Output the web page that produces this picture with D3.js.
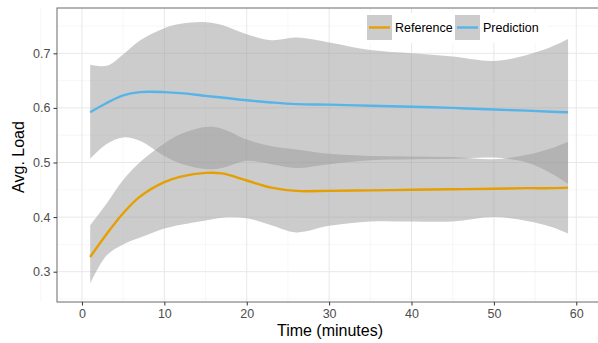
<!DOCTYPE html>
<html>
<head>
<meta charset="utf-8">
<script src="https://cdn.jsdelivr.net/npm/d3@7"></script>
<style>
  body { margin: 0; background: #fff; }
  text { font-family: "Liberation Sans", Arial, sans-serif; }
</style>
</head>
<body>
<svg width="598" height="343"></svg>
<script>
// time points (minutes) where the smooth curves were read
var times = [1, 3, 5, 7, 10, 12, 15, 17, 20, 23, 26, 30, 35, 40, 45, 50, 54, 57, 59];

// Reference series: fit and confidence band
var refFit   = [0.327, 0.369, 0.407, 0.437, 0.464, 0.474, 0.481, 0.480, 0.467, 0.454, 0.448, 0.448, 0.449, 0.450, 0.451, 0.452, 0.453, 0.453, 0.454];
var refUpper = [0.385, 0.425, 0.468, 0.500, 0.535, 0.552, 0.565, 0.562, 0.542, 0.530, 0.524, 0.516, 0.512, 0.511, 0.510, 0.506, 0.514, 0.526, 0.538];
var refLower = [0.278, 0.330, 0.350, 0.362, 0.379, 0.386, 0.394, 0.399, 0.398, 0.385, 0.372, 0.384, 0.392, 0.392, 0.392, 0.400, 0.393, 0.382, 0.370];

// Prediction series: fit and confidence band
var predFit   = [0.592, 0.609, 0.623, 0.629, 0.629, 0.627, 0.622, 0.619, 0.614, 0.610, 0.607, 0.606, 0.604, 0.602, 0.600, 0.597, 0.595, 0.593, 0.592];
var predUpper = [0.679, 0.677, 0.698, 0.723, 0.746, 0.754, 0.757, 0.752, 0.735, 0.724, 0.729, 0.720, 0.706, 0.700, 0.694, 0.686, 0.697, 0.712, 0.726];
var predLower = [0.507, 0.534, 0.546, 0.540, 0.512, 0.498, 0.488, 0.490, 0.503, 0.497, 0.490, 0.497, 0.504, 0.506, 0.507, 0.509, 0.500, 0.480, 0.461];

var xTicks = [0, 10, 20, 30, 40, 50, 60];
var yTicks = [0.3, 0.4, 0.5, 0.6, 0.7];
var seriesNames = ["Reference", "Prediction"];
var seriesColors = ["#E69F00", "#56B4E9"];

var svg = d3.select("svg");
var pLeft = 57, pRight = 601, pTop = 8, pBottom = 302;

var x = d3.scaleLinear().domain([-3.03, 63]).range([pLeft, pRight]);
var y = d3.scaleLinear().domain([0.2445, 0.783]).range([pBottom, pTop]);

// grid
var grid = svg.append("g");
var minorX = d3.range(-5, 70, 10), minorY = d3.range(0.25, 0.8, 0.1);
grid.selectAll(".mx").data(minorX).enter().append("line")
  .attr("x1", d => x(d)).attr("x2", d => x(d)).attr("y1", pTop).attr("y2", pBottom)
  .attr("stroke", "#f2f2f2").attr("stroke-width", 0.6);
grid.selectAll(".my").data(minorY).enter().append("line")
  .attr("x1", pLeft).attr("x2", pRight).attr("y1", d => y(d)).attr("y2", d => y(d))
  .attr("stroke", "#f2f2f2").attr("stroke-width", 0.6);
grid.selectAll(".gx").data(xTicks).enter().append("line")
  .attr("x1", d => x(d)).attr("x2", d => x(d)).attr("y1", pTop).attr("y2", pBottom)
  .attr("stroke", "#e8e8e8").attr("stroke-width", 1);
grid.selectAll(".gy").data(yTicks).enter().append("line")
  .attr("x1", pLeft).attr("x2", pRight).attr("y1", d => y(d)).attr("y2", d => y(d))
  .attr("stroke", "#e8e8e8").attr("stroke-width", 1);

function rows(fit, lo, hi) {
  return times.map(function (t, i) { return { t: t, fit: fit[i], lo: lo[i], hi: hi[i] }; });
}
var series = [rows(refFit, refLower, refUpper), rows(predFit, predLower, predUpper)];

var area = d3.area().curve(d3.curveCatmullRom)
  .x(d => x(d.t)).y0(d => y(d.lo)).y1(d => y(d.hi));
var line = d3.line().curve(d3.curveCatmullRom)
  .x(d => x(d.t)).y(d => y(d.fit));

svg.append("g").selectAll("path").data(series).enter().append("path")
  .attr("d", area).attr("fill", "#999999").attr("fill-opacity", 0.5);
svg.append("g").selectAll("path").data(series).enter().append("path")
  .attr("d", line).attr("fill", "none")
  .attr("stroke", (d, i) => seriesColors[i]).attr("stroke-width", 2.4);

// panel border
svg.append("rect").attr("x", pLeft).attr("y", pTop)
  .attr("width", pRight - pLeft).attr("height", pBottom - pTop)
  .attr("fill", "none").attr("stroke", "#6a6a6a").attr("stroke-width", 1);

// axes
var xAxis = svg.append("g").attr("transform", "translate(0," + pBottom + ")")
  .call(d3.axisBottom(x).tickValues(xTicks).tickSize(3.5).tickPadding(4));
var yAxis = svg.append("g").attr("transform", "translate(" + pLeft + ",0)")
  .call(d3.axisLeft(y).tickValues(yTicks).tickFormat(d3.format(".1f")).tickSize(3.5).tickPadding(3));
[xAxis, yAxis].forEach(function (a) {
  a.select(".domain").remove();
  a.selectAll(".tick line").attr("stroke", "#333");
  a.selectAll(".tick text").attr("fill", "#4d4d4d").attr("font-size", 12.5)
    .style("font-family", '"Liberation Sans", Arial, sans-serif');
});

svg.append("text").attr("x", 330).attr("y", 336).attr("text-anchor", "middle")
  .attr("font-size", 16).attr("fill", "#000").text("Time (minutes)");
svg.append("text").attr("transform", "translate(24,157) rotate(-90)").attr("text-anchor", "middle")
  .attr("font-size", 16).attr("fill", "#000").text("Avg. Load");

// legend
var legend = svg.append("g");
legend.append("rect").attr("x", 362).attr("y", 13).attr("width", 186).attr("height", 30).attr("fill", "#fff");
var keyX = [367, 455], textX = [395, 483];
seriesNames.forEach(function (name, i) {
  legend.append("rect").attr("x", keyX[i]).attr("y", 15).attr("width", 25).attr("height", 25)
    .attr("fill", "#999999").attr("fill-opacity", 0.5);
  legend.append("line").attr("x1", keyX[i] + 2).attr("x2", keyX[i] + 23).attr("y1", 27.5).attr("y2", 27.5)
    .attr("stroke", seriesColors[i]).attr("stroke-width", 2.4);
  legend.append("text").attr("x", textX[i]).attr("y", 32).attr("font-size", 12.5)
    .attr("fill", "#000").text(name);
});
</script>
</body>
</html>
